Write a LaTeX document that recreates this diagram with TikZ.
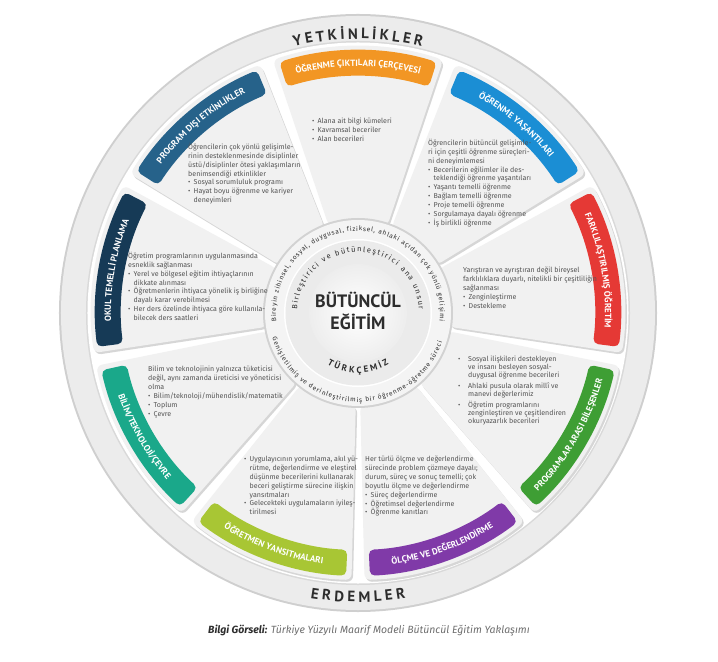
\documentclass[tikz,border=0pt]{standalone}
\usepackage{fontspec}
\setmainfont{Fira Sans}
\newfontfamily\ptsans{PT Sans}
\usetikzlibrary{decorations.text}

\definecolor{cOrange}{RGB}{242,150,36}
\definecolor{cBlue}{RGB}{27,142,212}
\definecolor{cRed}{RGB}{229,57,53}
\definecolor{cGreen}{RGB}{62,158,52}
\definecolor{cPurple}{RGB}{128,58,168}
\definecolor{cLime}{RGB}{168,198,52}
\definecolor{cTeal}{RGB}{26,168,138}
\definecolor{cNavy}{RGB}{22,58,86}
\definecolor{cSteel}{RGB}{38,98,138}
\definecolor{txtgray}{RGB}{85,85,85}
\definecolor{darktxt}{RGB}{45,45,45}
\definecolor{capgray}{RGB}{110,110,110}

\newcommand\bul{\makebox[5.5bp][l]{•}}
\newcommand\cnt{\hspace*{5.5bp}}
\newcommand\wbul{\makebox[10bp][l]{•}}
\newcommand\wcnt{\hspace*{10bp}}
\newcommand\bandfont{\ptsans\bfseries\fontsize{9}{9}\selectfont}

\tikzset{
  seg/.style={fill=gray!11, rounded corners=6bp},
  segshadow/.style={fill=black!35, opacity=.45, rounded corners=6bp},
  band/.style={rounded corners=5bp},
  txt/.style={anchor=north west, align=left, inner sep=0pt, text=txtgray, font=\fontsize{7.1}{8.9}\selectfont},
  bandlabel/.style={decorate, decoration={text along path, text align=center, text color=white, text={|\bandfont|#1}}},
  ringlabel/.style={decorate, decoration={text along path, text align=fit to path, text color=darktxt, text={#1}}},
}

\begin{document}
\begin{tikzpicture}[x=1bp, y=1bp]
\useasboundingbox (-358,-349) rectangle (360,313);

% outer rim
\fill[gray!38] (0,0) circle[radius=299bp];
\fill[gray!15] (0,0) circle[radius=297bp];
\fill[gray!30] (0,0) circle[radius=272bp];
\fill[white] (0,0) circle[radius=270.5bp];

% gray segments
\foreach \c in {90,50,10,-30,-70,-110,-150,170,130}{
  \fill[segshadow, shift={(1.5,-2)}] ({\c-18.6}:92bp) arc[start angle=\c-18.6, end angle=\c+18.6, radius=92bp] -- ({\c+18.6}:267bp) arc[start angle=\c+18.6, end angle=\c-18.6, radius=267bp] -- cycle;
  \fill[seg] ({\c-18.6}:92bp) arc[start angle=\c-18.6, end angle=\c+18.6, radius=92bp] -- ({\c+18.6}:267bp) arc[start angle=\c+18.6, end angle=\c-18.6, radius=267bp] -- cycle;
}

% coloured bands
\foreach \c/\col in {90/cOrange, 50/cBlue, 10/cRed, -30/cGreen, -70/cPurple, -110/cLime, -150/cTeal, 170/cNavy, 130/cSteel}{
  \fill[\col, band] ({\c-17.4}:237bp) arc[start angle=\c-17.4, end angle=\c+17.4, radius=237bp] -- ({\c+17.4}:263bp) arc[start angle=\c+17.4, end angle=\c-17.4, radius=263bp] -- cycle;
}

% band labels
\path[bandlabel={ÖĞRENME ÇIKTILARI ÇERÇEVESİ}] (112:247bp) arc[start angle=112, end angle=68, radius=247bp];
\path[bandlabel={ÖĞRENME YAŞANTILARI}] (72:247bp) arc[start angle=72, end angle=28, radius=247bp];
\path[bandlabel={FARKLILAŞTIRILMIŞ ÖĞRETİM}] (32:247bp) arc[start angle=32, end angle=-12, radius=247bp];
\path[bandlabel={PROGRAM DIŞI ETKİNLİKLER}] (152:247bp) arc[start angle=152, end angle=108, radius=247bp];
\path[bandlabel={OKUL TEMELLİ PLANLAMA}] (192:247bp) arc[start angle=192, end angle=148, radius=247bp];
\path[bandlabel={PROGRAMLAR ARASI BİLEŞENLER}] (-52:253.5bp) arc[start angle=-52, end angle=-8, radius=253.5bp];
\path[bandlabel={ÖLÇME VE DEĞERLENDİRME}] (-92:253.5bp) arc[start angle=-92, end angle=-48, radius=253.5bp];
\path[bandlabel={ÖĞRETMEN YANSITMALARI}] (-132:253.5bp) arc[start angle=-132, end angle=-88, radius=253.5bp];
\path[bandlabel={BİLİM/TEKNOLOJİ/ÇEVRE}] (-172:253.5bp) arc[start angle=-172, end angle=-128, radius=253.5bp];

% rim labels
\path[ringlabel={|\ptsans\bfseries\fontsize{15}{15}\selectfont|YETKİNLİKLER}] (103.5:274bp) arc[start angle=103.5, end angle=76.5, radius=274bp];
\path[ringlabel={|\ptsans\bfseries\fontsize{15}{15}\selectfont|ERDEMLER}] (-99.5:289bp) arc[start angle=-99.5, end angle=-80.5, radius=289bp];

% centre
\fill[gray!35] (0,0) circle[radius=95bp];
\fill[gray!9] (0,0) circle[radius=93bp];
\fill[white] (0,0) circle[radius=74bp];
\fill[gray!16] (0,0) circle[radius=72.5bp];
\shade[inner color=white, outer color=gray!14] (0,0) circle[radius=49bp];
\node[font=\ptsans\bfseries\fontsize{18}{22}\selectfont, text=darktxt, align=center] (butuncul) at (0,2) {BÜTÜNCÜL\\EĞİTİM};

\path[ringlabel={|\fontsize{6.5}{7}\selectfont|Bireyin zihinsel, sosyal, duygusal, fiziksel, ahlaki açıdan çok yönlü gelişimi}] (186:82bp) arc[start angle=186, end angle=-6, radius=82bp];
\path[ringlabel={|\fontsize{7.5}{8}\selectfont|Birleştirici ve bütünleştirici ana unsur}] (177:61bp) arc[start angle=177, end angle=3, radius=61bp];
\path[ringlabel={|\fontsize{6.5}{7}\selectfont|Genişletilmiş ve derinleştirilmiş bir öğrenme-öğretme süreci}] (-164:89bp) arc[start angle=-164, end angle=-19, radius=89bp];
\path[ringlabel={|\ptsans\bfseries\fontsize{9}{9}\selectfont|TÜRKÇEMİZ}] (-121:60bp) arc[start angle=-121, end angle=-59, radius=60bp];

% segment texts
\node[txt] (ciktilar) at (-46,195) {\bul Alana ait bilgi kümeleri\\ \bul Kavramsal beceriler\\ \bul Alan becerileri};

\node[txt] (yasantilar) at (70,174) {Öğrencilerin bütüncül gelişimle-\\ ri için çeşitli öğrenme süreçleri-\\ ni deneyimlemesi\\
\bul Becerilerin eğilimler ile des-\\ \cnt teklendiği öğrenme yaşantıları\\ \bul Yaşantı temelli öğrenme\\
\bul Bağlam temelli öğrenme\\ \bul Proje temelli öğrenme\\ \bul Sorgulamaya dayalı öğrenme\\ \bul İş birlikli öğrenme};

\node[txt] (farklilastirma) at (105,46) {Yarıştıran ve ayrıştıran değil bireysel\\ farklılıklara duyarlı, nitelikli bir çeşitliliğin\\ sağlanması\\
\bul Zenginleştirme\\ \bul Destekleme};

\node[txt, font=\fontsize{7.1}{8.1}\selectfont] (programlar) at (100,-43) {\wbul Sosyal ilişkileri destekleyen\\ \wcnt ve insanı besleyen sosyal-\\ \wcnt duygusal öğrenme becerileri\\[2.5bp]
\wbul Ahlaki pusula olarak millî ve\\ \wcnt manevi değerlerimiz\\[2.5bp]
\wbul Öğretim programlarını\\ \wcnt zenginleştiren ve çeşitlendiren\\ \wcnt okuryazarlık becerileri};

\node[txt] (olcme) at (7,-143) {Her türlü ölçme ve değerlendirme\\ sürecinde problem çözmeye dayalı;\\ durum, süreç ve sonuç temelli; çok\\ boyutlu ölçme ve değerlendirme\\
\bul Süreç değerlendirme\\ \bul Öğretimsel değerlendirme\\ \bul Öğrenme kanıtları};

\node[txt] (yansitma) at (-114,-143) {\bul Uygulayıcının yorumlama, akıl yü-\\ \cnt rütme, değerlendirme ve eleştirel\\ \cnt düşünme becerilerini kullanarak\\
\cnt beceri geliştirme sürecine ilişkin\\ \cnt yansıtmaları\\ \bul Gelecekteki uygulamaların iyileş-\\ \cnt tirilmesi};

\node[txt] (bilim) at (-210,-53) {Bilim ve teknolojinin yalnızca tüketicisi\\ değil, aynı zamanda üreticisi ve yöneticisi\\ olma\\
\bul Bilim/teknoloji/mühendislik/matematik\\ \bul Toplum\\ \bul Çevre};

\node[txt] (okul) at (-230,61) {Öğretim programlarının uygulanmasında\\ esneklik sağlanması\\
\bul Yerel ve bölgesel eğitim ihtiyaçlarının\\ \cnt dikkate alınması\\
\bul Öğretmenlerin ihtiyaca yönelik iş birliğine\\ \cnt dayalı karar verebilmesi\\
\bul Her ders özelinde ihtiyaca göre kullanıla-\\ \cnt bilecek ders saatleri};

\node[txt] (disetkinlik) at (-170,170) {Öğrencilerin çok yönlü gelişimle-\\ rinin desteklenmesinde disiplinler\\ üstü/disiplinler ötesi yaklaşımların\\ benimsendiği etkinlikler\\
\bul Sosyal sorumluluk programı\\ \bul Hayat boyu öğrenme ve kariyer\\ \cnt deneyimleri};

% caption
\node[font=\fontsize{10.5}{12}\selectfont\itshape] (caption) at (11,-318) {\textcolor{darktxt}{\bfseries Bilgi Görseli:} \textcolor{capgray}{Türkiye Yüzyılı Maarif Modeli Bütüncül Eğitim Yaklaşımı}};
\end{tikzpicture}
\end{document}
